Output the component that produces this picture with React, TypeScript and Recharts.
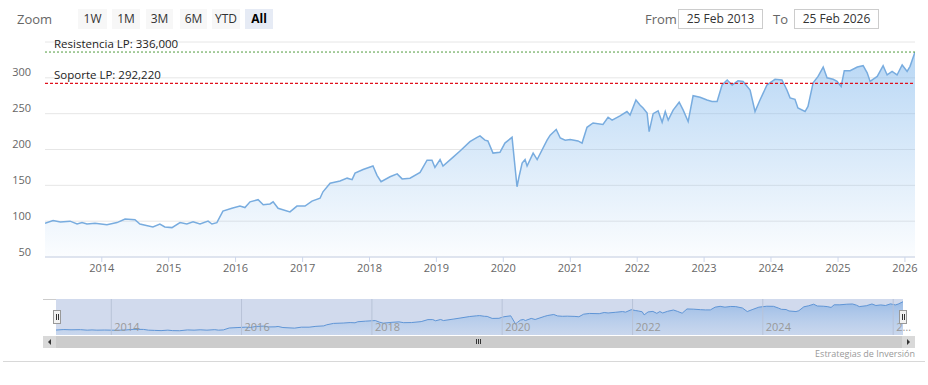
import React from 'react';
import { AreaChart, Area, XAxis, YAxis, CartesianGrid, ReferenceLine, ReferenceArea } from 'recharts';

// closing values, one point roughly every month
const DATES = [
  '2013-02-25', '2013-04-10', '2013-05-20', '2013-07-12', '2013-08-19', '2013-09-15', '2013-10-12', '2013-11-25',
  '2014-01-29', '2014-03-25', '2014-05-08', '2014-07-01', '2014-07-28', '2014-09-01', '2014-10-07',
  '2014-11-14', '2014-12-11', '2015-01-19', '2015-03-04', '2015-04-10', '2015-05-14', '2015-06-21',
  '2015-08-04', '2015-08-25', '2015-09-21', '2015-10-24', '2015-12-12', '2016-01-25',
  '2016-02-21', '2016-03-20', '2016-05-03', '2016-05-31', '2016-07-07', '2016-07-24',
  '2016-08-20', '2016-10-24', '2016-12-01', '2017-01-14', '2017-02-21', '2017-04-06',
  '2017-04-22', '2017-05-31', '2017-07-24', '2017-09-01', '2017-09-28', '2017-10-14',
  '2017-11-27', '2018-01-20', '2018-02-11', '2018-03-05', '2018-04-23', '2018-06-01',
  '2018-06-28', '2018-08-10', '2018-10-04', '2018-11-11', '2018-12-08', '2018-12-24',
  '2019-01-21', '2019-02-06', '2019-04-01', '2019-05-10', '2019-07-03', '2019-08-11',
  '2019-08-27', '2019-09-23', '2019-10-09', '2019-11-06', '2019-12-14', '2020-01-10',
  '2020-02-18', '2020-02-23', '2020-03-16', '2020-03-27', '2020-04-13', '2020-04-29',
  '2020-05-10', '2020-06-12', '2020-07-04', '2020-08-27', '2020-09-13', '2020-10-16',
  '2020-11-07', '2020-12-04', '2020-12-31', '2021-02-12', '2021-03-06', '2021-04-02',
  '2021-05-05', '2021-06-28', '2021-07-26', '2021-08-17', '2021-09-29', '2021-11-06',
  '2021-11-23', '2021-12-25', '2022-01-16', '2022-02-02', '2022-02-24', '2022-03-07',
  '2022-03-29', '2022-04-25', '2022-05-17', '2022-06-03', '2022-06-19', '2022-07-16',
  '2022-08-18', '2022-09-09', '2022-10-06', '2022-11-02', '2022-12-10', '2023-01-17',
  '2023-02-13', '2023-03-13', '2023-04-09', '2023-05-07', '2023-06-03', '2023-07-05',
  '2023-08-02', '2023-09-09', '2023-10-06', '2023-11-02', '2023-12-10', '2024-01-23',
  '2024-03-01', '2024-03-28', '2024-04-14', '2024-05-11', '2024-05-27', '2024-07-05',
  '2024-07-21', '2024-08-18', '2024-09-14', '2024-10-12', '2024-11-02', '2024-12-05',
  '2024-12-27', '2025-01-18', '2025-02-04', '2025-03-08', '2025-04-16', '2025-05-18',
  '2025-06-09', '2025-06-25', '2025-08-03', '2025-09-04', '2025-09-26', '2025-10-23',
  '2025-11-19', '2025-12-17', '2026-01-13', '2026-01-29', '2026-02-25',
];

const CLOSES = [
  97, 101, 99, 100, 96, 98, 96, 97,
  95, 98, 103, 102, 96, 94, 92,
  96, 92, 91, 98, 96, 99, 96,
  100, 96, 98, 114, 118, 121,
  119, 127, 130, 123, 124, 127,
  118, 113, 121, 121, 128, 132,
  141, 153, 156, 160, 158, 167,
  172, 177, 164, 155, 162, 166,
  159, 160, 168, 185, 185, 175,
  186, 177, 189, 198, 211, 217,
  219, 213, 212, 195, 196, 209,
  217, 204, 148, 162, 181, 186,
  177, 195, 186, 213, 220, 228,
  216, 213, 214, 212, 209, 231,
  237, 235, 245, 241, 247, 253,
  248, 269, 262, 258, 251, 225,
  250, 254, 238, 253, 241, 255,
  266, 255, 239, 275, 273, 269,
  267, 267, 290, 297, 290, 296,
  295, 283, 253, 269, 290, 298,
  297, 283, 272, 270, 258, 253,
  260, 293, 302, 315, 300, 298,
  295, 288, 310, 310, 315, 317,
  307, 295, 302, 317, 304, 309,
  304, 318, 309, 316, 336,
];

const RESISTANCE = 336;
const SUPPORT = 292.22;
const RANGE_FROM = '2013-02-25';
const RANGE_TO = '2026-02-25';
const YEAR_TICKS = [2014, 2015, 2016, 2017, 2018, 2019, 2020, 2021, 2022, 2023, 2024, 2025, 2026];
const NAV_YEARS = [2014, 2016, 2018, 2020, 2022, 2024, 2026];
const Y_TICKS = [50, 100, 150, 200, 250, 300, 350];
const ZOOM_BUTTONS = ['1W', '1M', '3M', '6M', 'YTD', 'All'];

const FONT = '"Open Sans", "DejaVu Sans", sans-serif';
const yearTs = (y: number) => Date.UTC(y, 0, 1);
const t0 = Date.parse(RANGE_FROM);
const t1 = Date.parse(RANGE_TO);

const data = DATES.map((d, i) => ({ t: Date.parse(d), v: CLOSES[i] }));

const fmtLevel = (v: number) => v.toFixed(3).replace('.', ',');

const YTick = (props: any) => {
  const { x, y, payload } = props;
  if (payload.value === 350) return <g />;
  return (
    <text x={x} y={y - 1.5} textAnchor="end" fill="#666" fontSize={11} fontFamily={FONT}>
      {payload.value}
    </text>
  );
};

const levelLabel = (text: string) => (props: any) => {
  const vb = props.viewBox || {};
  return (
    <text x={(vb.x || 0) + 9} y={(vb.y || 0) - 4} fill="#222" fontSize={11.5} fontFamily={FONT}>
      {text}
    </text>
  );
};

// navigator year labels sit inside the strip, to the right of each grid line
const navLabel = (year: number) => (props: any) => {
  const vb = props.viewBox || {};
  const x = vb.x || 0;
  const label = x > 880 ? '2…' : String(year);
  return (
    <text x={x + 3} y={(vb.y || 0) + (vb.height || 0) - 4} fill="#999" fontSize={11} fontFamily={FONT}>
      {label}
    </text>
  );
};

const btn = (label: string, i: number) => {
  const lefts = [78, 112, 146, 180, 212, 245];
  const widths = [29, 28, 27, 27, 28, 28];
  const active = label === 'All';
  return (
    <div
      key={label}
      style={{
        position: 'absolute', left: lefts[i], top: 9, width: widths[i], height: 20,
        background: active ? '#e6ebf5' : '#f7f7f7', color: active ? '#000' : '#333',
        fontWeight: active ? 700 : 400, fontSize: 12, lineHeight: '20px', textAlign: 'center',
      }}
    >
      {label}
    </div>
  );
};

const inputBox = (left: number, text: string) => (
  <div
    style={{
      position: 'absolute', left, top: 9, width: 83, height: 18, border: '1px solid #ccc',
      fontSize: 12, lineHeight: '18px', textAlign: 'center', color: '#333',
    }}
  >
    {text}
  </div>
);

const fmtDate = (s: string) => {
  const d = new Date(Date.parse(s));
  const m = ['Jan', 'Feb', 'Mar', 'Apr', 'May', 'Jun', 'Jul', 'Aug', 'Sep', 'Oct', 'Nov', 'Dec'];
  return `${d.getUTCDate()} ${m[d.getUTCMonth()]} ${d.getUTCFullYear()}`;
};

export default function App() {
  return (
    <div style={{ position: 'absolute', left: 0, top: 0, width: 928, height: 385, background: '#fff', fontFamily: FONT }}>
      {/* range selector */}
      <div style={{ position: 'absolute', left: 17, top: 9, fontSize: 13, lineHeight: '20px', color: '#666' }}>Zoom</div>
      {ZOOM_BUTTONS.map(btn)}
      <div style={{ position: 'absolute', left: 645, top: 9, fontSize: 13, lineHeight: '20px', color: '#666' }}>From</div>
      {inputBox(678, fmtDate(RANGE_FROM))}
      <div style={{ position: 'absolute', left: 773, top: 9, fontSize: 13, lineHeight: '20px', color: '#666' }}>To</div>
      {inputBox(794, fmtDate(RANGE_TO))}

      {/* main chart */}
      <div style={{ position: 'absolute', left: 0, top: 0 }}>
        <AreaChart width={928} height={300} data={data} margin={{ top: 42, right: 13, bottom: 13, left: 0 }}>
          <defs>
            <linearGradient id="mainFill" x1="0" y1="0" x2="0" y2="1">
              <stop offset="0%" stopColor="#7cb5ec" stopOpacity={0.9} />
              <stop offset="100%" stopColor="#7cb5ec" stopOpacity={0.05} />
            </linearGradient>
          </defs>
          <CartesianGrid vertical={false} stroke="#e6e6e6" />
          <XAxis
            dataKey="t"
            type="number"
            domain={[t0, t1]}
            ticks={YEAR_TICKS.map(yearTs)}
            tickFormatter={(v) => String(new Date(v).getUTCFullYear())}
            tick={{ fill: '#666', fontSize: 11, fontFamily: FONT }}
            axisLine={{ stroke: '#ccd6eb' }}
            tickLine={{ stroke: '#ccd6eb' }}
            tickSize={5}
            allowDataOverflow
          />
          <YAxis
            width={45}
            domain={[50, 350]}
            ticks={Y_TICKS}
            axisLine={false}
            tickLine={false}
            tickSize={0}
            tickMargin={14}
            tick={YTick}
            allowDataOverflow
          />
          <Area
            type="linear"
            dataKey="v"
            stroke="#78acdf"
            strokeWidth={1.5}
            fill="url(#mainFill)"
            isAnimationActive={false}
            dot={false}
            activeDot={false}
          />
          <ReferenceLine
            y={RESISTANCE}
            stroke="#4f9a3c"
            strokeWidth={1}
            strokeDasharray="2 2"
            label={levelLabel(`Resistencia LP: ${fmtLevel(RESISTANCE)}`)}
          />
          <ReferenceLine
            y={SUPPORT}
            stroke="#e0101c"
            strokeWidth={1.3}
            strokeDasharray="3 2"
            label={levelLabel(`Soporte LP: ${fmtLevel(SUPPORT)}`)}
          />
        </AreaChart>
      </div>

      {/* navigator */}
      <div style={{ position: 'absolute', left: 0, top: 299 }}>
        <AreaChart width={928} height={36} data={data} margin={{ top: 0, right: 25, bottom: 0, left: 56 }}>
          <defs>
            <linearGradient id="navFill" x1="0" y1="0" x2="0" y2="1">
              <stop offset="0%" stopColor="#5b97dd" stopOpacity={0.75} />
              <stop offset="100%" stopColor="#7cb5ec" stopOpacity={0.15} />
            </linearGradient>
          </defs>
          <ReferenceArea x1={t0} x2={t1} y1={55} y2={359} fill="#6685c2" fillOpacity={0.3} stroke="none" />
          <XAxis dataKey="t" type="number" domain={[t0, t1]} hide />
          <YAxis hide domain={[55, 359]} />
          <Area
            type="linear"
            dataKey="v"
            stroke="#5f95d6"
            strokeWidth={1}
            fill="url(#navFill)"
            isAnimationActive={false}
            dot={false}
            activeDot={false}
          />
          {NAV_YEARS.map((y) => (
            <ReferenceLine key={y} x={yearTs(y)} stroke="#b8c3d8" label={navLabel(y)} />
          ))}
        </AreaChart>
      </div>
      <div style={{ position: 'absolute', left: 43, top: 299, width: 13, height: 1, background: '#ccc' }} />

      {/* navigator handles */}
      {[53, 899].map((l) => (
        <div key={l} style={{ position: 'absolute', left: l, top: 310, width: 6, height: 12, background: '#f2f2f2', border: '1px solid #999' }}>
          <div style={{ position: 'absolute', left: 1.5, top: 3, width: 1, height: 6, background: '#333' }} />
          <div style={{ position: 'absolute', left: 3.5, top: 3, width: 1, height: 6, background: '#333' }} />
        </div>
      ))}

      {/* scrollbar */}
      <div style={{ position: 'absolute', left: 43, top: 336, width: 872, height: 12, background: '#cccccc' }} />
      <div style={{ position: 'absolute', left: 43, top: 336, width: 13, height: 12, background: '#d9d9d9' }} />
      <div style={{ position: 'absolute', left: 902, top: 336, width: 13, height: 12, background: '#d9d9d9' }} />
      <div style={{ position: 'absolute', left: 48, top: 339, width: 0, height: 0, borderTop: '3px solid transparent', borderBottom: '3px solid transparent', borderRight: '3px solid #333' }} />
      <div style={{ position: 'absolute', left: 907, top: 339, width: 0, height: 0, borderTop: '3px solid transparent', borderBottom: '3px solid transparent', borderLeft: '3px solid #333' }} />
      {[476, 478, 480].map((l) => (
        <div key={l} style={{ position: 'absolute', left: l, top: 339, width: 1, height: 5, background: '#333' }} />
      ))}

      {/* credits + separator */}
      <div style={{ position: 'absolute', right: 13, top: 348, fontSize: 9, color: '#999', lineHeight: '12px' }}>Estrategias de Inversión</div>
      <div style={{ position: 'absolute', left: 3, top: 361, width: 922, height: 1, background: '#d8d8d8' }} />
    </div>
  );
}
